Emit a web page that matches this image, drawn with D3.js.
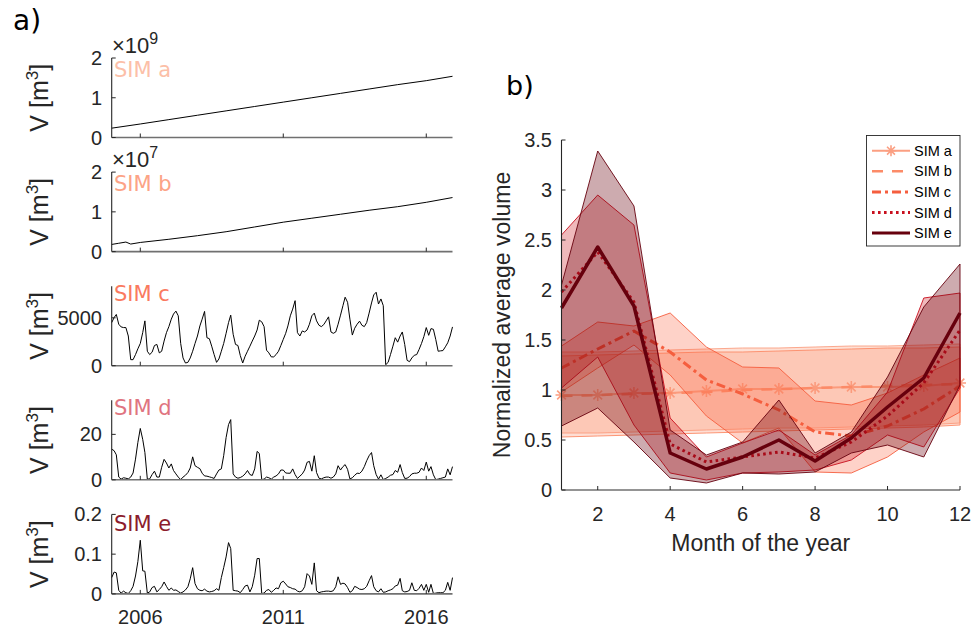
<!DOCTYPE html>
<html>
<head>
<meta charset="utf-8">
<script src="https://cdn.jsdelivr.net/npm/d3@7"></script>
<style>
  body { margin: 0; background: #fff; }
  svg { display: block; }
</style>
</head>
<body>
<svg id="fig" width="974" height="630"></svg>
<script>
// ---------------- data: panel a) monthly volume time series ----------------
const simNames = ["SIM a", "SIM b", "SIM c", "SIM d", "SIM e"];

// SIM a and SIM b grow almost steadily, so a few readings per year are enough
const aDates  = ["2005-01","2006-01","2007-01","2008-01","2009-01","2010-01","2011-01",
                 "2012-01","2013-01","2014-01","2015-01","2016-01","2016-12"];
const aValues = [2.35e8,3.4e8,4.5e8,5.6e8,6.7e8,7.8e8,8.9e8,1.0e9,1.11e9,1.22e9,1.33e9,1.43e9,1.54e9];

const bDates  = ["2005-01","2005-04","2005-07","2005-09","2006-01","2007-01","2008-01","2009-01",
                 "2010-01","2011-01","2012-01","2013-01","2014-01","2015-01","2016-01","2016-12"];
const bValues = [1.8e6,2.1e6,2.4e6,1.9e6,2.3e6,3.1e6,4.0e6,5.0e6,6.2e6,7.4e6,8.4e6,9.4e6,
                 1.04e7,1.13e7,1.24e7,1.36e7];

// monthly series, January 2005 to December 2016
const cValues = [
  4500,5030,5350,4330,4050,3980,3980,3100,630,630,
  1160,1760,2320,3450,4680,1510,1160,1410,2110,2220,
  1340,1510,2570,3450,4080,4860,5390,5700,5210,2320,
  810,280,350,810,1510,2320,3100,4150,4860,5670,
  2920,2820,2040,1160,350,700,1510,2320,3380,4500,
  5280,3280,2220,2110,1060,280,990,1510,2040,2570,
  3100,3730,4750,4580,4080,1620,1340,920,920,1160,
  1510,2110,2750,3380,4150,5210,5910,6790,3450,3100,
  3630,3520,3730,4330,5210,5490,4680,4220,4080,4290,
  4680,5100,3520,3380,3520,4330,5280,6270,7150,6620,
  4860,3200,3910,4330,4650,4220,4080,4500,5490,6550,
  7390,7670,6440,6970,6270,100,350,1160,2040,2920,
  2460,3100,3520,2220,560,420,810,1090,1160,1690,
  2320,3030,3980,3170,3870,3800,2750,1510,1550,1580,
  1970,2390,3100,4050];
const dValues = [
  13.5,12.8,11.0,1.2,0.3,0.9,0.7,0.4,1.2,3.0,
  9.1,16.4,22.6,17.8,12.0,0.3,0.4,2.3,3.8,1.2,
  1.2,5.5,9.0,7.4,5.2,7.0,4.1,2.6,1.2,0.1,
  1.2,2.0,3.2,5.2,10.1,6.2,5.5,4.9,2.9,1.7,
  1.6,1.3,1.0,0.6,2.6,4.3,4.8,10.6,18.6,24.3,
  26.5,2.6,1.2,0.7,1.0,1.6,2.6,4.1,2.3,1.9,
  4.8,12.5,11.6,0.1,0.3,1.2,0.9,0.3,1.2,1.7,
  2.6,4.3,4.3,3.0,2.9,2.9,4.8,2.3,0.6,1.6,
  2.6,4.3,7.7,8.1,3.8,10.6,3.2,0.7,0.4,0.9,
  1.2,1.2,0.7,1.2,2.6,6.2,4.3,5.8,6.7,4.6,
  0.4,0.9,2.0,2.9,2.8,3.8,5.8,8.4,10.6,12.0,
  6.2,2.3,0.3,2.2,0.1,0.6,1.2,2.0,2.3,4.1,
  3.3,6.7,3.2,0.6,0.7,1.4,2.6,2.9,2.9,3.3,
  5.2,4.1,7.8,3.8,5.8,2.2,0.1,0.3,0.6,0.9,
  1.2,4.8,2.2,5.8];
const eValues = [
  0.041,0.055,0.053,0.009,0.002,0.007,0.003,0.001,0.008,0.019,
  0.045,0.081,0.135,0.058,0.057,0.002,0.005,0.016,0.019,0.005,
  0.011,0.018,0.030,0.019,0.009,0.015,0.009,0.010,0.006,0.002,
  0.005,0.010,0.018,0.038,0.066,0.026,0.013,0.009,0.008,0.012,
  0.007,0.005,0.006,0.008,0.013,0.009,0.041,0.066,0.093,0.129,
  0.114,0.009,0.008,0.007,0.003,0.011,0.020,0.022,0.005,0.018,
  0.047,0.089,0.089,0.001,0.002,0.009,0.011,0.004,0.009,0.015,
  0.013,0.028,0.032,0.025,0.018,0.016,0.013,0.012,0.007,0.005,
  0.008,0.018,0.051,0.045,0.024,0.078,0.008,0.003,0.005,0.006,
  0.007,0.007,0.006,0.008,0.018,0.043,0.024,0.027,0.025,0.016,
  0.004,0.008,0.019,0.016,0.012,0.011,0.013,0.019,0.033,0.046,
  0.018,0.008,0.005,0.013,0.004,0.005,0.008,0.010,0.013,0.020,
  0.022,0.039,0.008,0.005,0.006,0.009,0.028,0.009,0.008,0.014,
  0.024,0.009,0.024,0.004,0.024,0.001,0.002,0.003,0.003,0.003,
  0.009,0.029,0.009,0.041];

const yearTicks = [2006, 2011, 2016];
const ticksA = [0, 1e9, 2e9],    tickLabelsA = ["0", "1", "2"];
const ticksB = [0, 1e7, 2e7],    tickLabelsB = ["0", "1", "2"];
const ticksC = [0, 5000],        tickLabelsC = ["0", "5000"];
const ticksD = [0, 20],          tickLabelsD = ["0", "20"];
const ticksE = [0, 0.1, 0.2],    tickLabelsE = ["0", "0.1", "0.2"];
const yMaxes = [2e9, 2e7, 8300, 35, 0.2];
const exponents = ["9", "7", null, null, null];

// ---------------- data: panel b) normalized monthly averages ----------------
const months = [1,2,3,4,5,6,7,8,9,10,11,12];
const meanA  = [0.95,0.95,0.97,0.97,0.99,1.01,1.01,1.02,1.03,1.03,1.04,1.07];
const lowA   = [0.57,0.57,0.58,0.59,0.60,0.61,0.62,0.62,0.63,0.64,0.65,0.67];
const highA  = [1.38,1.38,1.39,1.40,1.41,1.42,1.42,1.43,1.44,1.44,1.45,1.46];
const meanB  = [0.94,0.95,0.96,0.97,0.98,1.00,1.01,1.02,1.03,1.04,1.05,1.06];
const lowB   = [0.53,0.54,0.55,0.56,0.57,0.58,0.59,0.60,0.61,0.62,0.63,0.65];
const highB  = [1.34,1.35,1.36,1.37,1.38,1.38,1.39,1.40,1.41,1.42,1.42,1.43];
const meanC  = [1.22,1.41,1.59,1.38,1.10,0.96,0.80,0.58,0.54,0.64,0.81,1.04];
const lowC   = [0.98,1.22,1.45,1.15,0.74,0.47,0.62,0.18,0.17,0.33,0.58,0.78];
const highC  = [1.44,1.68,1.64,1.77,1.43,1.23,1.22,0.89,0.85,0.97,1.15,1.32];
const meanD  = [1.98,2.38,1.88,0.46,0.28,0.33,0.38,0.32,0.48,0.74,1.07,1.60];
const lowD   = [1.02,1.33,0.65,0.17,0.10,0.17,0.18,0.20,0.30,0.55,0.43,1.02];
const highD  = [2.55,2.95,2.65,0.72,0.33,0.47,0.60,0.35,0.55,0.98,1.92,1.97];
const meanE  = [1.82,2.43,1.84,0.37,0.21,0.33,0.50,0.29,0.52,0.83,1.12,1.77];
const lowE   = [0.64,0.82,0.48,0.12,0.07,0.17,0.16,0.18,0.37,0.45,0.33,1.05];
const highE  = [2.05,3.39,2.84,0.60,0.35,0.48,0.90,0.37,0.58,1.13,1.83,2.26];

const monthTicks = [2,4,6,8,10,12];
const normTicks = [0,0.5,1,1.5,2,2.5,3,3.5];
const normTickLabels = ["0","0.5","1","1.5","2","2.5","3","3.5"];

// ---------------- styling ----------------
const SANS = '"Liberation Sans", Arial, Helvetica, sans-serif';
const DEJAVU = '"DejaVu Sans", Verdana, sans-serif';
const AX = "#262626";
const labelColors = ["#fcbfa8", "#fca386", "#fa7a5f", "#e07480", "#8c1c2c"];
const lineColors  = ["#fb9f82", "#fc8b68", "#f55e3e", "#c8101e", "#67000d"];
const bandColors  = ["#fcbba1", "#fc9272", "#fb6a4a", "#cb181d", "#67000d"];
const bandOpacity = [0.45, 0.3, 0.3, 0.3, 0.33];
const dashes      = [null, "11,9", "9,4,3,4", "2.6,3.4", null];
const widths      = [2, 2.5, 3, 3, 3.5];

const svg = d3.select("#fig");

function txt(g, x, y, s, size, family, fill, anchor) {
  return g.append("text").attr("x", x).attr("y", y)
    .style("font-family", family).style("font-size", size + "px")
    .attr("fill", fill).attr("text-anchor", anchor || "start").text(s);
}

// panel letters
txt(svg, 13, 30, "a)", 28, DEJAVU, "#000");
txt(svg, 506, 95, "b)", 27, DEJAVU, "#000");

// ---------------- panel a) ----------------
const parseYM = d3.timeParse("%Y-%m");
const monthDates = d3.timeMonth.range(new Date(2005, 0, 1), new Date(2017, 0, 1));
const xT = d3.scaleTime()
  .domain([new Date(2005, 0, 1), new Date(2016, 11, 1)])
  .range([111.7, 452.5]);

const seriesLeft = [
  aDates.map((d, i) => ({ date: parseYM(d), v: aValues[i] })),
  bDates.map((d, i) => ({ date: parseYM(d), v: bValues[i] })),
  monthDates.map((d, i) => ({ date: d, v: cValues[i] })),
  monthDates.map((d, i) => ({ date: d, v: dValues[i] })),
  monthDates.map((d, i) => ({ date: d, v: eValues[i] }))
];
const tickSets = [[ticksA, tickLabelsA], [ticksB, tickLabelsB], [ticksC, tickLabelsC],
                  [ticksD, tickLabelsD], [ticksE, tickLabelsE]];
const nameBaselines = [77, 191, 301, 415, 531];

seriesLeft.forEach((data, k) => {
  const top = 58 + k * 114.1, bottom = top + 79.5;
  const y = d3.scaleLinear().domain([0, yMaxes[k]]).range([bottom, top]);
  const g = svg.append("g");
  const x0 = xT.range()[0], x1 = xT.range()[1];

  g.append("path").datum(data)
    .attr("d", d3.line().x(d => xT(d.date)).y(d => y(d.v)))
    .attr("fill", "none").attr("stroke", "#000").attr("stroke-width", 1)
    .attr("stroke-linejoin", "round");

  // axes
  g.append("line").attr("x1", x0).attr("x2", x0).attr("y1", y.range()[1]).attr("y2", y.range()[0])
    .attr("stroke", AX).attr("stroke-width", 1.1);
  g.append("line").attr("x1", x0).attr("x2", x1).attr("y1", bottom).attr("y2", bottom)
    .attr("stroke", "#707070").attr("stroke-width", 1.6);
  yearTicks.forEach(yr => {
    const xx = xT(new Date(yr, 0, 1));
    g.append("line").attr("x1", xx).attr("x2", xx).attr("y1", bottom).attr("y2", bottom - 4)
      .attr("stroke", AX).attr("stroke-width", 1);
    if (k === 4) txt(g, xx, 624, String(yr), 20, SANS, AX, "middle");
  });
  const [tv, tl] = tickSets[k];
  tv.forEach((t, i) => {
    g.append("line").attr("x1", x0).attr("x2", x0 + 4).attr("y1", y(t)).attr("y2", y(t))
      .attr("stroke", AX).attr("stroke-width", 1);
    txt(g, 102, y(t), tl[i], 20, SANS, AX, "end").attr("dy", "0.35em");
  });

  if (exponents[k]) {
    const ex = txt(g, 112, top - 5, "×10", 22, SANS, AX);
    ex.append("tspan").attr("dy", -9).style("font-size", "16px").text(exponents[k]);
  }

  txt(g, 114, nameBaselines[k], simNames[k], 21, DEJAVU, labelColors[k]);

  const yl = g.append("text")
    .attr("transform", `translate(48,${(top + bottom) / 2}) rotate(-90)`)
    .attr("text-anchor", "middle").style("font-family", SANS).style("font-size", "25px")
    .attr("fill", AX).text("V [m");
  yl.append("tspan").attr("dy", -10).style("font-size", "17px").text("3");
  yl.append("tspan").attr("dy", 10).text("]");
});

// ---------------- panel b) ----------------
const xM = d3.scaleLinear().domain([1, 12]).range([561.5, 960]);
const yN = d3.scaleLinear().domain([0, 3.5]).range([490, 140]);

const stats = [
  [meanA, lowA, highA], [meanB, lowB, highB], [meanC, lowC, highC],
  [meanD, lowD, highD], [meanE, lowE, highE]
];

function star(g, cx, cy, r, color) {
  const p = d3.path();
  p.moveTo(cx - r, cy); p.lineTo(cx + r, cy);
  p.moveTo(cx, cy - r); p.lineTo(cx, cy + r);
  const q = r * 0.72;
  p.moveTo(cx - q, cy - q); p.lineTo(cx + q, cy + q);
  p.moveTo(cx - q, cy + q); p.lineTo(cx + q, cy - q);
  g.append("path").attr("d", p.toString()).attr("stroke", color)
    .attr("stroke-width", 1.6).attr("fill", "none");
}

const gb = svg.append("g");
stats.forEach(([mean, low, high], k) => {
  const rows = months.map((m, i) => ({ m, mean: mean[i], low: low[i], high: high[i] }));
  gb.append("path").datum(rows)
    .attr("d", d3.area().x(d => xM(d.m)).y0(d => yN(d.low)).y1(d => yN(d.high)))
    .attr("fill", bandColors[k]).attr("fill-opacity", bandOpacity[k])
    .attr("stroke", lineColors[k]).attr("stroke-width", 0.9).attr("stroke-linejoin", "round");
  gb.append("path").datum(rows)
    .attr("d", d3.line().x(d => xM(d.m)).y(d => yN(d.mean)))
    .attr("fill", "none").attr("stroke", lineColors[k]).attr("stroke-width", widths[k])
    .attr("stroke-dasharray", dashes[k]).attr("stroke-linejoin", "round");
  if (k === 0) rows.forEach(d => star(gb, xM(d.m), yN(d.mean), 6, lineColors[0]));
});

// axes of panel b)
gb.append("line").attr("x1", 561.5).attr("x2", 561.5).attr("y1", yN(3.5)).attr("y2", yN(0))
  .attr("stroke", AX).attr("stroke-width", 1.1);
gb.append("line").attr("x1", 561.5).attr("x2", xM(12)).attr("y1", yN(0)).attr("y2", yN(0))
  .attr("stroke", "#707070").attr("stroke-width", 1.6);
monthTicks.forEach(m => {
  gb.append("line").attr("x1", xM(m)).attr("x2", xM(m)).attr("y1", yN(0)).attr("y2", yN(0) - 4)
    .attr("stroke", AX).attr("stroke-width", 1);
  txt(gb, xM(m), 521, String(m), 20, SANS, AX, "middle");
});
normTicks.forEach((t, i) => {
  gb.append("line").attr("x1", 561.5).attr("x2", 565.5).attr("y1", yN(t)).attr("y2", yN(t))
    .attr("stroke", AX).attr("stroke-width", 1);
  txt(gb, 552, yN(t), normTickLabels[i], 20, SANS, AX, "end").attr("dy", "0.35em");
});
gb.append("text").attr("transform", `translate(510,${(yN(0) + yN(3.5)) / 2}) rotate(-90)`)
  .attr("text-anchor", "middle").style("font-family", SANS).style("font-size", "23px")
  .attr("fill", AX).text("Normalized average volume");
txt(gb, (xM(1) + xM(12)) / 2, 551, "Month of the year", 23, SANS, AX, "middle");

// legend
const lg = svg.append("g");
lg.append("rect").attr("x", 866.5).attr("y", 135.5).attr("width", 93.5).attr("height", 110.5)
  .attr("fill", "#fff").attr("stroke", AX).attr("stroke-width", 0.9);
simNames.forEach((name, k) => {
  const yy = 150.7 + k * 20.6;
  lg.append("line").attr("x1", 872).attr("x2", 910).attr("y1", yy).attr("y2", yy)
    .attr("stroke", lineColors[k]).attr("stroke-width", Math.min(widths[k], 3))
    .attr("stroke-dasharray", dashes[k]);
  if (k === 0) star(lg, 891, yy, 5.5, lineColors[0]);
  txt(lg, 914, yy, name, 14.5, SANS, "#000").attr("dy", "0.35em");
});
</script>
</body>
</html>
